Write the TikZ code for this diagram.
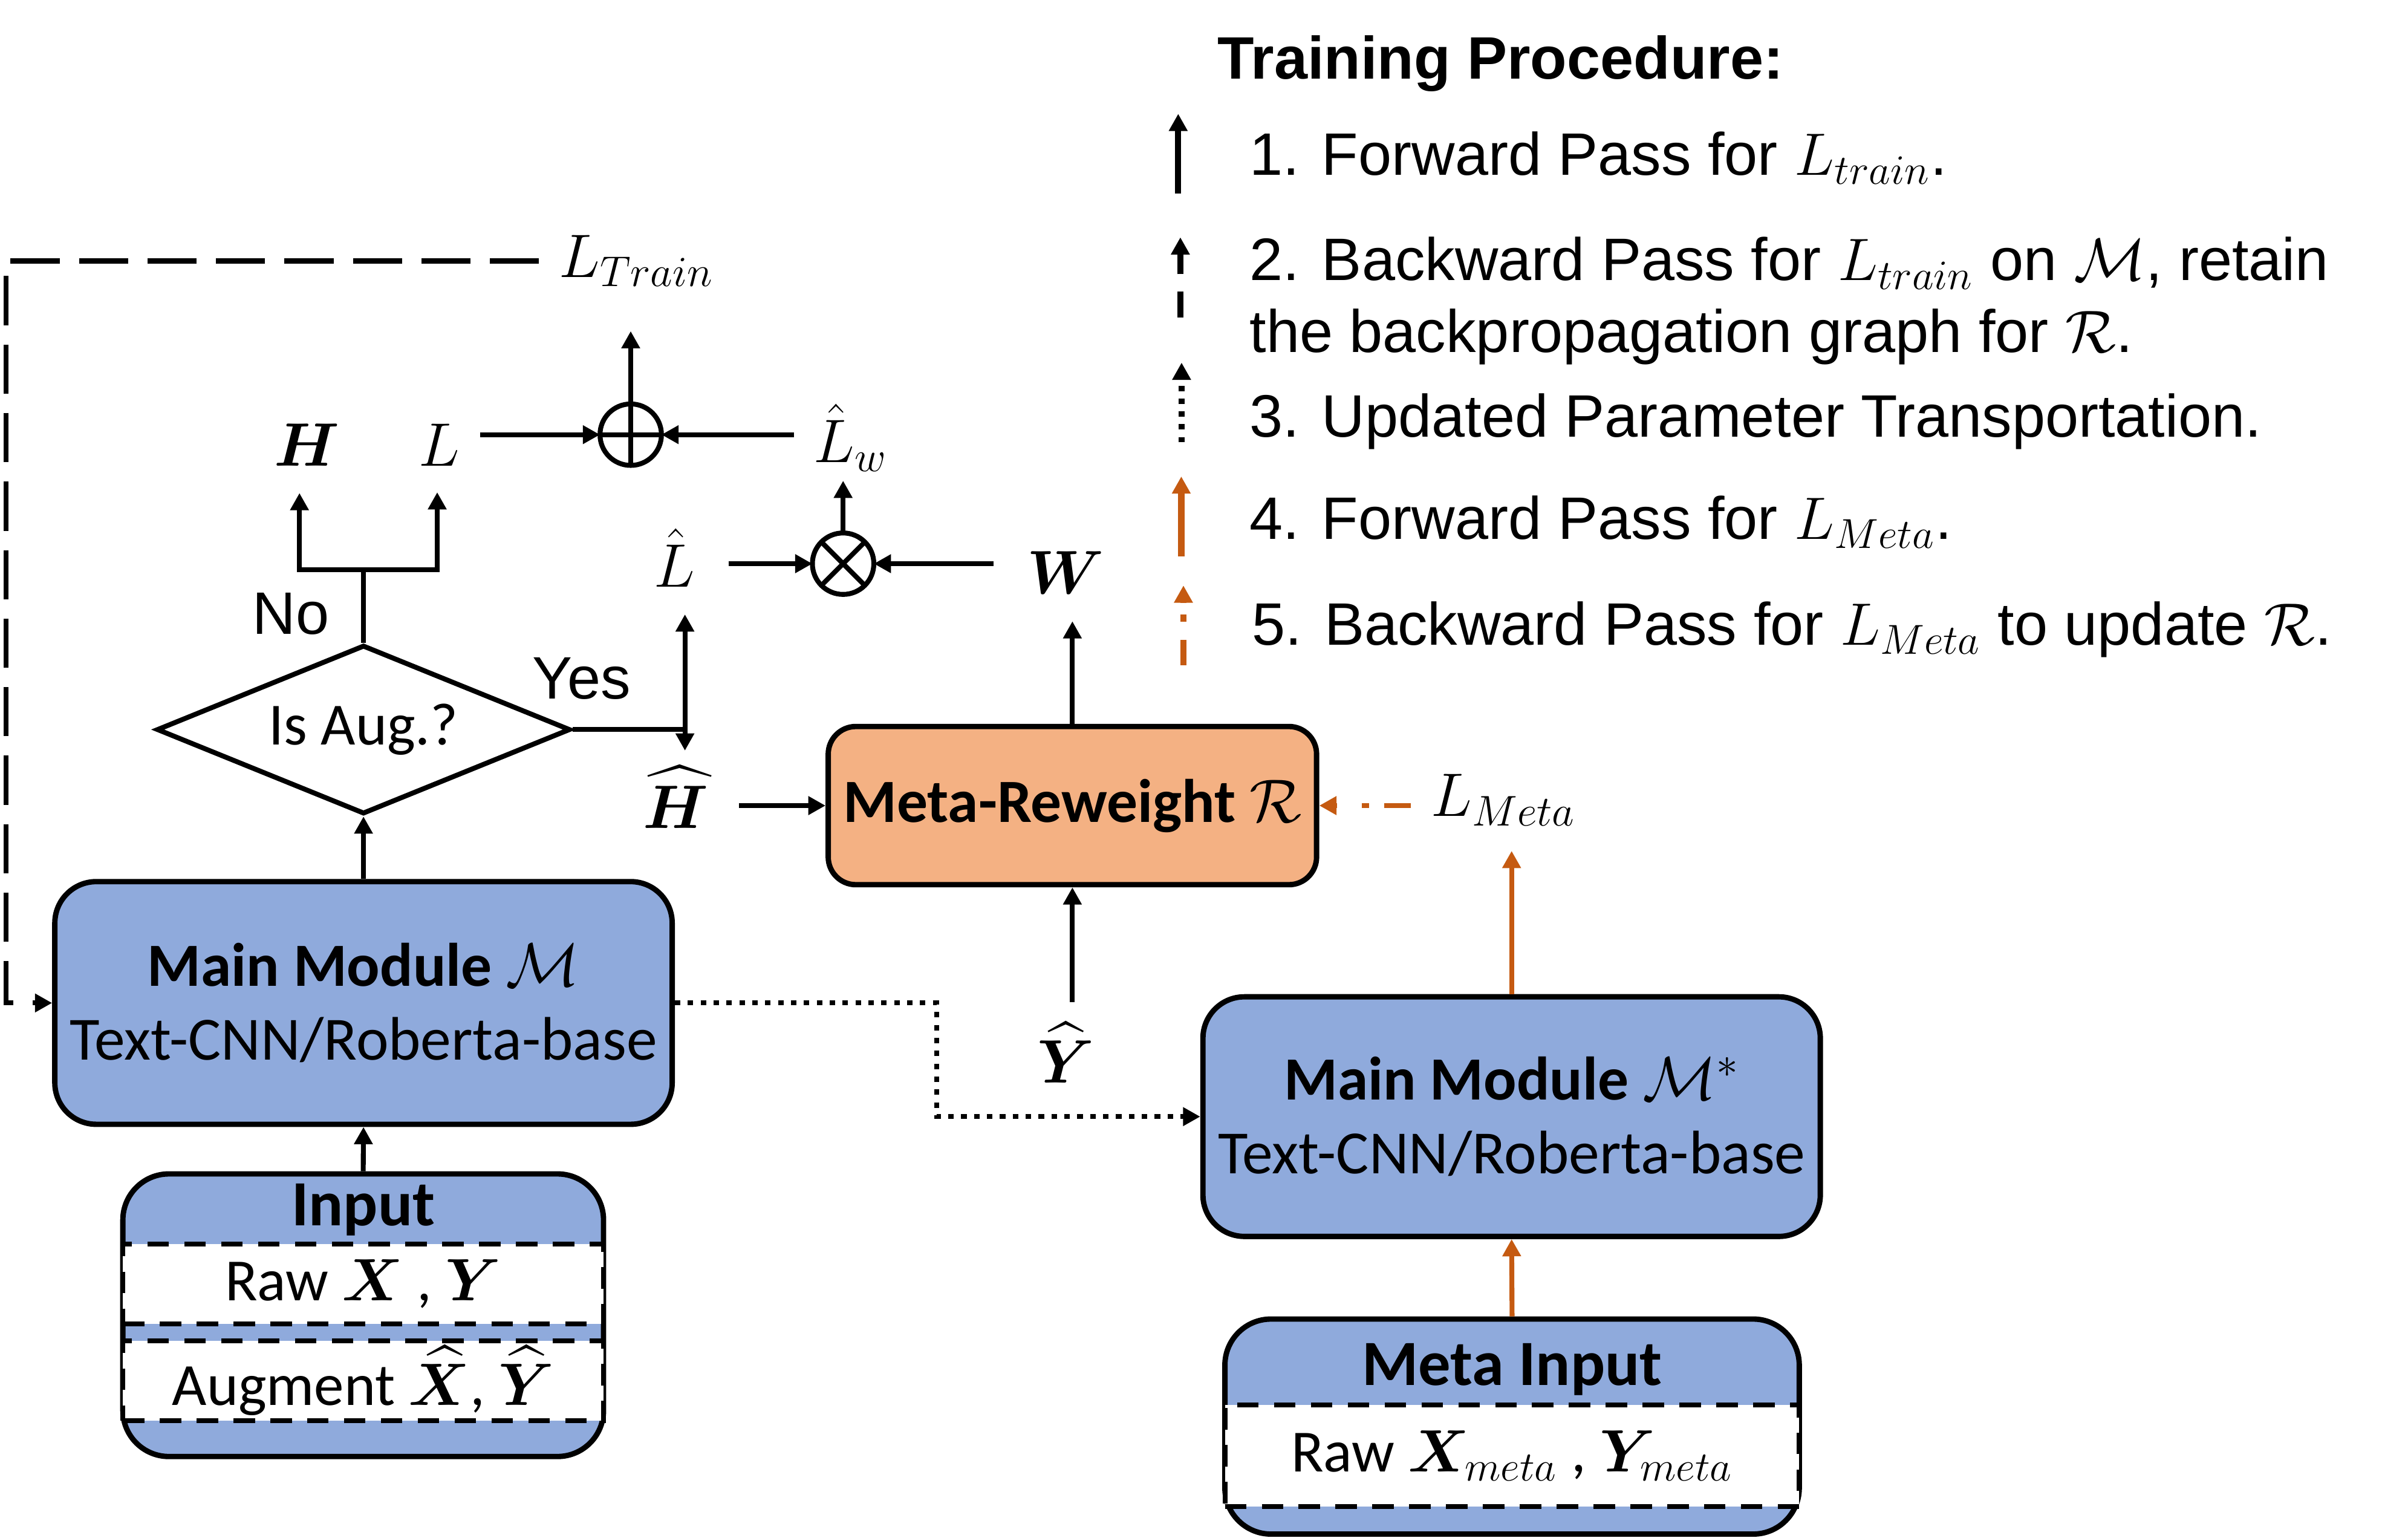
\RequirePackage{fix-cm}
\documentclass[tikz,border=0pt]{standalone}
\usepackage{amsmath,bm}
\usepackage{fontspec}
\setmainfont{Liberation Sans}
\newfontfamily\calib{Carlito}
\usetikzlibrary{arrows.meta,shapes.geometric}

\definecolor{modblue}{RGB}{143,170,220}
\definecolor{rworange}{RGB}{244,177,131}
\definecolor{metabrown}{RGB}{197,90,17}

\tikzset{
  legfont/.style={font=\fontsize{19.5}{24}\selectfont},
  modbox/.style={draw, line width=1.75pt, fill=modblue, rounded corners=13.5pt, align=center, inner sep=0pt, font=\calib\fontsize{20}{24}\selectfont},
  inbox/.style={draw, line width=1.75pt, fill=modblue, rounded corners=15pt, inner sep=0pt},
  intitle/.style={inner sep=0pt, font=\calib\bfseries\fontsize{21}{24}\selectfont},
  datbox/.style={draw, fill=white, line width=1.6pt, dash pattern=on 7pt off 5pt, inner sep=0pt, font=\calib\fontsize{19.5}{24}\selectfont},
  decide/.style={draw, diamond, line width=1.6pt, aspect=2.45, minimum width=134.7pt, minimum height=55pt, inner sep=0pt, font=\calib\fontsize{19.5}{24}\selectfont},
  sym/.style={inner sep=0pt, font=\fontsize{20}{24}\selectfont},
  opcirc/.style={draw, circle, line width=1.6pt, minimum size=20pt, inner sep=0pt, outer sep=0pt},
  wire/.style={line width=1.6pt},
  arr/.style={wire, -{Triangle[length=5.6pt,width=5.8pt]}},
  trainback/.style={arr, dash pattern=on 16pt off 6.3pt},
  paramline/.style={arr, dash pattern=on 1.8pt off 2.4pt},
  metafwd/.style={arr, color=metabrown},
  metaback/.style={arr, color=metabrown, dash pattern=on 8.6pt off 5pt on 2.3pt off 8pt},
  legarr/.style={line width=2pt, -{Triangle[length=5.6pt,width=5.8pt]}}
}

\begin{document}
\begin{tikzpicture}[x=0.5pt,y=0.5pt,yscale=-1,xscale=1]
\useasboundingbox (0,0) rectangle (1568,1001);

%Shape: Rounded Rect (main module)
\node[modbox, minimum width=201pt, minimum height=79pt] (main) at (236.7,653) {\textbf{Main Module} $\mathcal{M}$\\Text-CNN/Roberta-base};
%Shape: Rounded Rect (main module copy)
\node[modbox, minimum width=201pt, minimum height=78pt] (mainstar) at (984.3,727) {\textbf{Main Module} $\mathcal{M}^{*}$\\Text-CNN/Roberta-base};
%Shape: Rounded Rect (reweight)
\node[modbox, fill=rworange, rounded corners=9pt, minimum width=159pt, minimum height=51.5pt] (rew) at (698.3,524.5) {\textbf{Meta-Reweight} $\mathcal{R}$};
%Shape: Diamond
\node[decide] (aug) at (236.7,475) {Is Aug.?};

%Shape: Input
\node[inbox, minimum width=156.5pt, minimum height=92pt] (input) at (236.5,856.3) {};
\node[intitle, anchor=base] (inputtitle) at (236.5,798) {Input};
\node[datbox, minimum width=156.5pt, minimum height=26pt] (rawdata) at (236.5,836) {Raw $\boldsymbol{X}$ , $\boldsymbol{Y}$};
\node[datbox, minimum width=156.5pt, minimum height=26pt] (augdata) at (236.5,899) {Augment $\widehat{\boldsymbol{X}}$, $\widehat{\boldsymbol{Y}}$};

%Shape: Meta Input
\node[inbox, minimum width=187pt, minimum height=70pt] (metain) at (984.6,928.8) {};
\node[intitle, anchor=base] (metaintitle) at (984.6,902) {Meta Input};
\node[datbox, minimum width=187pt, minimum height=33pt] (metadata) at (984.6,947.8) {Raw $\boldsymbol{X}_{meta}$ , $\boldsymbol{Y}_{meta}$};

%Shape: Circles
\node[opcirc] (plus) at (410.7,283) {};
\draw[wire] (plus.north) -- (plus.south) (plus.west) -- (plus.east);
\node[opcirc] (times) at (549,367) {};
\draw[wire] (times.north west) -- (times.south east) (times.north east) -- (times.south west);

% Text Node
\node[sym, anchor=base west, outer xsep=6.5pt, outer ysep=14.5pt] (train) at (351,180.6) {$L_{Train}$};
% Text Node
\node[sym, anchor=base, outer xsep=6.6pt, outer ysep=8.75pt] (h) at (199.8,303.5) {$\boldsymbol{H}$};
% Text Node
\node[sym, anchor=base, outer xsep=6.6pt, outer ysep=8.5pt] (l) at (286,303.5) {$L$};
% Text Node
\node[sym, anchor=base west, outer xsep=6.5pt, outer ysep=3pt] (lw) at (517,301) {$\hat{L}_{w}$};
% Text Node
\node[sym, anchor=base, outer xsep=11pt, outer ysep=9pt] (lhat) at (439,382) {$\hat{L}$};
% Text Node
\node[sym, anchor=base, outer xsep=11pt, outer ysep=9pt] (w) at (694,386.5) {$\boldsymbol{W}$};
% Text Node
\node[sym, anchor=base, outer xsep=10pt, outer ysep=5pt] (hhat) at (440,539.4) {$\widehat{\boldsymbol{H}}$};
% Text Node
\node[sym, anchor=base, outer ysep=6.5pt] (yhat) at (694,705) {$\widehat{\boldsymbol{Y}}$};
% Text Node
\node[sym, anchor=base west, outer xsep=6.7pt, outer ysep=8.25pt] (lmeta) at (918.6,531.5) {$L_{Meta}$};
% Text Node
\node[legfont, inner sep=0pt, anchor=base] (no) at (189.4,412.8) {No};
% Text Node
\node[legfont, inner sep=0pt, anchor=base] (yes) at (378.7,455) {Yes};

%Straight Lines (no branch)
\coordinate (nojn) at (236.7,371);
\coordinate (hfoot) at (195,371);
\coordinate (lfoot) at (284.7,371);
\draw[wire] (aug.north) -- (nojn);
\draw[arr] (nojn) -- (hfoot) -- (hfoot |- h.south);
\draw[arr] (nojn) -- (lfoot) -- (lfoot |- l.south);
%Straight Lines (yes branch)
\coordinate (yesjn) at (446,475);
\draw[wire] (aug.east) -- (yesjn);
\draw[arr] (yesjn) -- (yesjn |- lhat.south);
\draw[arr] (yesjn) -- (yesjn |- hhat.north);

%Straight Lines (forward)
\draw[arr] (main.north) -- (aug.south);
\draw[arr] (input.north) -- (main.south);
\draw[arr] (l.east |- plus) -- (plus.west);
\draw[arr] (lw.west |- plus) -- (plus.east);
\draw[arr] (plus.north) -- (plus.north |- train.south);
\draw[arr] (lhat.east |- times) -- (times.west);
\draw[arr] (w.west |- times) -- (times.east);
\draw[arr] (times.north) -- (times.north |- lw.south);
\draw[arr] (rew.north) -- (rew.north |- w.south);
\draw[arr] (hhat.east |- rew.west) -- (rew.west);
\draw[arr] (rew.south |- yhat.north) -- (rew.south);

%Straight Lines (backward of L_Train)
\coordinate (trbend) at (4,653);
\draw[trainback] (train.west) -| (trbend) -- (main.west);
%Straight Lines (parameter transport)
\coordinate (dotbend) at (610,727);
\draw[paramline] (main.east) -| (dotbend) -- (mainstar.west);
%Straight Lines (meta pass)
\draw[metafwd] (metain.north) -- (mainstar.south);
\draw[metafwd] (mainstar.north) -- (mainstar.north |- lmeta.south);
\draw[metaback] (lmeta.west |- rew.east) -- (rew.east);

% Legend
\node[inner sep=0pt, anchor=base west, font=\bfseries\fontsize{19.5}{24}\selectfont] (legtitle) at (792.5,51.4) {Training Procedure:};
\node[legfont, inner sep=0pt, anchor=base west] (leg1) at (813.4,114) {1. Forward Pass for $L_{train}$.};
\node[legfont, inner sep=0pt, anchor=base west] (leg2) at (813.4,182.5) {2. Backward Pass for $L_{train}$ on $\mathcal{M}$, retain};
\node[legfont, inner sep=0pt, anchor=base west] (leg2b) at (813.4,229.5) {the backpropagation graph for $\mathcal{R}$.};
\node[legfont, inner sep=0pt, anchor=base west] (leg3) at (813.4,284.4) {3. Updated Parameter Transportation.};
\node[legfont, inner sep=0pt, anchor=base west] (leg4) at (813.4,351) {4. Forward Pass for $L_{Meta}$.};
\node[legfont, inner sep=0pt, anchor=base west] (leg5) at (815,420) {5. Backward Pass for $L_{Meta}$ to update $\mathcal{R}$.};

%Straight Lines (legend samples)
\coordinate (ls1) at (767.2,126.1);
\coordinate (le1) at (767.2,74.1);
\draw[legarr] (ls1) -- (le1);
\coordinate (ls2) at (768.6,206.7);
\coordinate (le2) at (768.6,154.5);
\draw[legarr, dash pattern=on 8.5pt off 5.6pt] (ls2) -- (le2);
\coordinate (ls3) at (769.4,288);
\coordinate (le3) at (769.4,236.1);
\draw[legarr, dash pattern=on 1.75pt off 2.4pt] (ls3) -- (le3);
\coordinate (ls4) at (769.2,362.1);
\coordinate (le4) at (769.2,310.2);
\draw[legarr, color=metabrown] (ls4) -- (le4);
\coordinate (ls5) at (770.6,433);
\coordinate (le5) at (770.6,381.2);
\draw[legarr, color=metabrown, dash pattern=on 8.2pt off 5.9pt on 2.3pt off 3.8pt] (ls5) -- (le5);
\end{tikzpicture}
\end{document}
